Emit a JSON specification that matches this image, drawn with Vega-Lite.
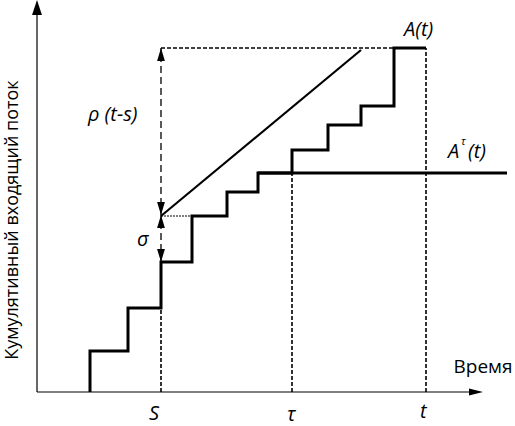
{
  "$schema": "https://vega.github.io/schema/vega-lite/v6.json",
  "width": 515,
  "height": 426,
  "padding": 0,
  "autosize": {"type": "none"},
  "config": {"view": {"stroke": null}, "text": {"font": "Open Sans", "color": "black"}},
  "datasets": {
    "arrivals": [
      {"x": 53, "y": 0}, {"x": 53, "y": 41}, {"x": 91, "y": 84}, {"x": 124, "y": 130},
      {"x": 155, "y": 176}, {"x": 190, "y": 200}, {"x": 221, "y": 219}, {"x": 255, "y": 242},
      {"x": 291, "y": 267}, {"x": 324, "y": 286}, {"x": 357, "y": 344}, {"x": 389, "y": 344}
    ],
    "atau": [{"x": 221, "y": 219}, {"x": 470, "y": 219}],
    "envelope": [{"x": 124, "y": 176}, {"x": 324, "y": 342}],
    "axes": [
      {"x": 0, "y": 0, "x2": 0, "y2": 386},
      {"x": 0, "y": 0, "x2": 442, "y2": 0}
    ],
    "dotted": [
      {"x": 124, "y": 344, "x2": 389, "y2": 344},
      {"x": 389, "y": 0, "x2": 389, "y2": 344},
      {"x": 255, "y": 0, "x2": 255, "y2": 219},
      {"x": 124, "y": 0, "x2": 124, "y2": 84}
    ],
    "thindot": [{"x": 124, "y": 176, "x2": 155, "y2": 176}],
    "dashed": [
      {"x": 124, "y": 176, "x2": 124, "y2": 344},
      {"x": 124, "y": 130, "x2": 124, "y2": 176}
    ],
    "heads_up": [{"x": 124, "y": 337.5}, {"x": 124, "y": 170.5}],
    "heads_down": [{"x": 124, "y": 183.5}, {"x": 124, "y": 136.5}],
    "axis_up": [{"x": 0, "y": 384.5}],
    "axis_right": [{"x": 439, "y": 0}],
    "labels": [
      {"x": 51, "y": 277, "text": "ρ (t-s)"},
      {"x": 100, "y": 152, "text": "σ"},
      {"x": 367, "y": 362, "text": "A(t)"},
      {"x": 112, "y": -22, "text": "S"},
      {"x": 250, "y": -22.5, "text": "τ"},
      {"x": 383, "y": -20, "text": "t"}
    ],
    "atau_label": [
      {"x": 411, "y": 240, "text": "A"},
      {"x": 431, "y": 240, "text": "(t)"}
    ],
    "atau_sup": [{"x": 424, "y": 250, "text": "τ"}],
    "upright": [{"x": 446, "y": 25, "text": "Время"}],
    "ytitle": [{"x": -24, "y": 172, "text": "Кумулятивный входящий поток"}]
  },
  "encoding": {
    "x": {"field": "x", "type": "quantitative", "scale": {"domain": [-37, 478], "nice": false, "zero": false}, "axis": null},
    "y": {"field": "y", "type": "quantitative", "scale": {"domain": [-34, 392], "nice": false, "zero": false}, "axis": null}
  },
  "layer": [
    {"data": {"name": "axes"}, "mark": {"type": "rule", "color": "black", "strokeWidth": 1.2},
     "encoding": {"x2": {"field": "x2"}, "y2": {"field": "y2"}}},
    {"data": {"name": "axis_up"}, "mark": {"type": "point", "shape": "M0,-1L0.66,1L-0.66,1Z", "filled": true, "color": "black", "size": 225, "opacity": 1}},
    {"data": {"name": "axis_right"}, "mark": {"type": "point", "shape": "M1,0L-1,-0.5L-1,0.5Z", "filled": true, "color": "black", "size": 196, "opacity": 1}},
    {"data": {"name": "dotted"}, "mark": {"type": "rule", "color": "black", "strokeWidth": 1.6, "strokeDash": [4, 2]},
     "encoding": {"x2": {"field": "x2"}, "y2": {"field": "y2"}}},
    {"data": {"name": "thindot"}, "mark": {"type": "rule", "color": "black", "strokeWidth": 1, "strokeDash": [2, 1]},
     "encoding": {"x2": {"field": "x2"}, "y2": {"field": "y2"}}},
    {"data": {"name": "dashed"}, "mark": {"type": "rule", "color": "black", "strokeWidth": 1.3, "strokeDash": [7, 4]},
     "encoding": {"x2": {"field": "x2"}, "y2": {"field": "y2"}}},
    {"data": {"name": "heads_up"}, "mark": {"type": "point", "shape": "M0,-1L0.6,1L-0.6,1Z", "filled": true, "color": "black", "size": 169, "opacity": 1}},
    {"data": {"name": "heads_down"}, "mark": {"type": "point", "shape": "M0,1L0.6,-1L-0.6,-1Z", "filled": true, "color": "black", "size": 169, "opacity": 1}},
    {"data": {"name": "envelope"}, "mark": {"type": "line", "color": "black", "strokeWidth": 2.2}},
    {"data": {"name": "atau"}, "mark": {"type": "line", "color": "black", "strokeWidth": 3}},
    {"data": {"name": "arrivals"}, "mark": {"type": "line", "interpolate": "step-after", "color": "black", "strokeWidth": 3, "strokeJoin": "miter"}},
    {"data": {"name": "labels"}, "mark": {"type": "text", "fontSize": 20, "fontStyle": "italic", "align": "left", "baseline": "middle"},
     "encoding": {"text": {"field": "text"}}},
    {"data": {"name": "atau_label"}, "mark": {"type": "text", "fontSize": 20, "fontStyle": "italic", "align": "left", "baseline": "middle"},
     "encoding": {"text": {"field": "text"}}},
    {"data": {"name": "atau_sup"}, "mark": {"type": "text", "fontSize": 11, "fontStyle": "italic", "align": "left", "baseline": "middle"},
     "encoding": {"text": {"field": "text"}}},
    {"data": {"name": "upright"}, "mark": {"type": "text", "fontSize": 19, "align": "center", "baseline": "middle"},
     "encoding": {"text": {"field": "text"}}},
    {"data": {"name": "ytitle"}, "mark": {"type": "text", "fontSize": 18, "angle": 270, "align": "center", "baseline": "middle"},
     "encoding": {"text": {"field": "text"}}}
  ]
}
